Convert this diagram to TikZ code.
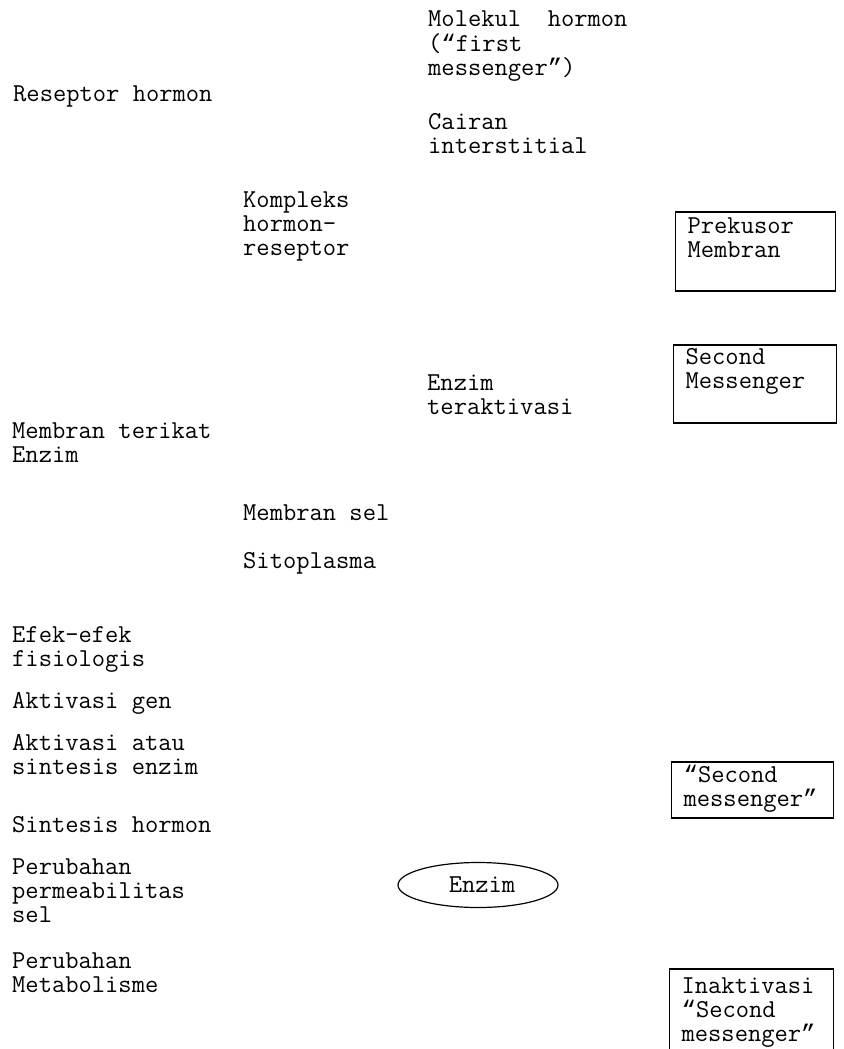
\documentclass[tikz,border=0pt]{standalone}
\usepackage{fontspec}
\usetikzlibrary{shapes.geometric}
\newfontfamily\quotefont{Liberation Mono}
\newcommand{\typefont}{\ttfamily\fontsize{25.8}{24}\selectfont}
\newcommand{\myoq}{{\quotefont\fontsize{24}{24}\selectfont “}}
\newcommand{\mycq}{{\quotefont\fontsize{24}{24}\selectfont ”}}
\begin{document}
\begin{tikzpicture}[x=1pt,y=-1pt,
  lbl/.style={anchor=base west, inner sep=0pt, align=left, font=\typefont},
  msgbox/.style={draw, line width=1.2pt, anchor=base west, inner ysep=0pt, inner xsep=12pt,
     align=left, font=\typefont},
  enz/.style={draw, line width=1.2pt, ellipse, inner sep=0pt, minimum width=160pt, minimum height=45pt,
     font=\typefont}]
\useasboundingbox (0,0) rectangle (843,1049);

% multi-line labels are anchored at the baseline of their last line
\node[lbl] (molekul) at (428,75) {Molekul\ \ hormon\\(\myoq first\\messenger\mycq)};
\node[lbl] (reseptor) at (13,101) {Reseptor hormon};
\node[lbl] (cairan) at (428,153) {Cairan\\interstitial};
\node[lbl] (kompleks) at (243,255) {Kompleks\\hormon-\\reseptor};
\node[lbl] (enzakt) at (427,414) {Enzim\\teraktivasi};
\node[lbl] (terikat) at (12,462) {Membran terikat\\Enzim};
\node[lbl] (memsel) at (243,520) {Membran sel};
\node[lbl] (sito) at (243,568) {Sitoplasma};
\node[lbl] (efek) at (12,666) {Efek-efek\\fisiologis};
\node[lbl] (gen) at (12,708) {Aktivasi gen};
\node[lbl] (sintenz) at (12,774) {Aktivasi atau\\sintesis enzim};
\node[lbl] (sinthor) at (12,832) {Sintesis hormon};
\node[lbl] (permeab) at (12,922) {Perubahan\\permeabilitas\\sel};
\node[lbl] (metab) at (12,992) {Perubahan\\Metabolisme};

\node[msgbox, text width=136pt, text height=21pt, text depth=58pt] (prekusor) at (675,233) {Prekusor\\Membran};
\node[msgbox, text width=139pt, text height=19pt, text depth=59pt] (second) at (673,364) {Second\\Messenger};
\node[msgbox, text width=138pt, text height=20pt, text depth=36pt] (second2) at (671,782) {\myoq Second\\messenger\mycq};
\node[msgbox, text width=140pt, text height=24pt, text depth=72pt] (inakt) at (669,993) {Inaktivasi\\\myoq Second\\messenger\mycq};

\node[enz] (enzim) at (478,885) {\hspace*{8pt}Enzim};
\end{tikzpicture}
\end{document}
